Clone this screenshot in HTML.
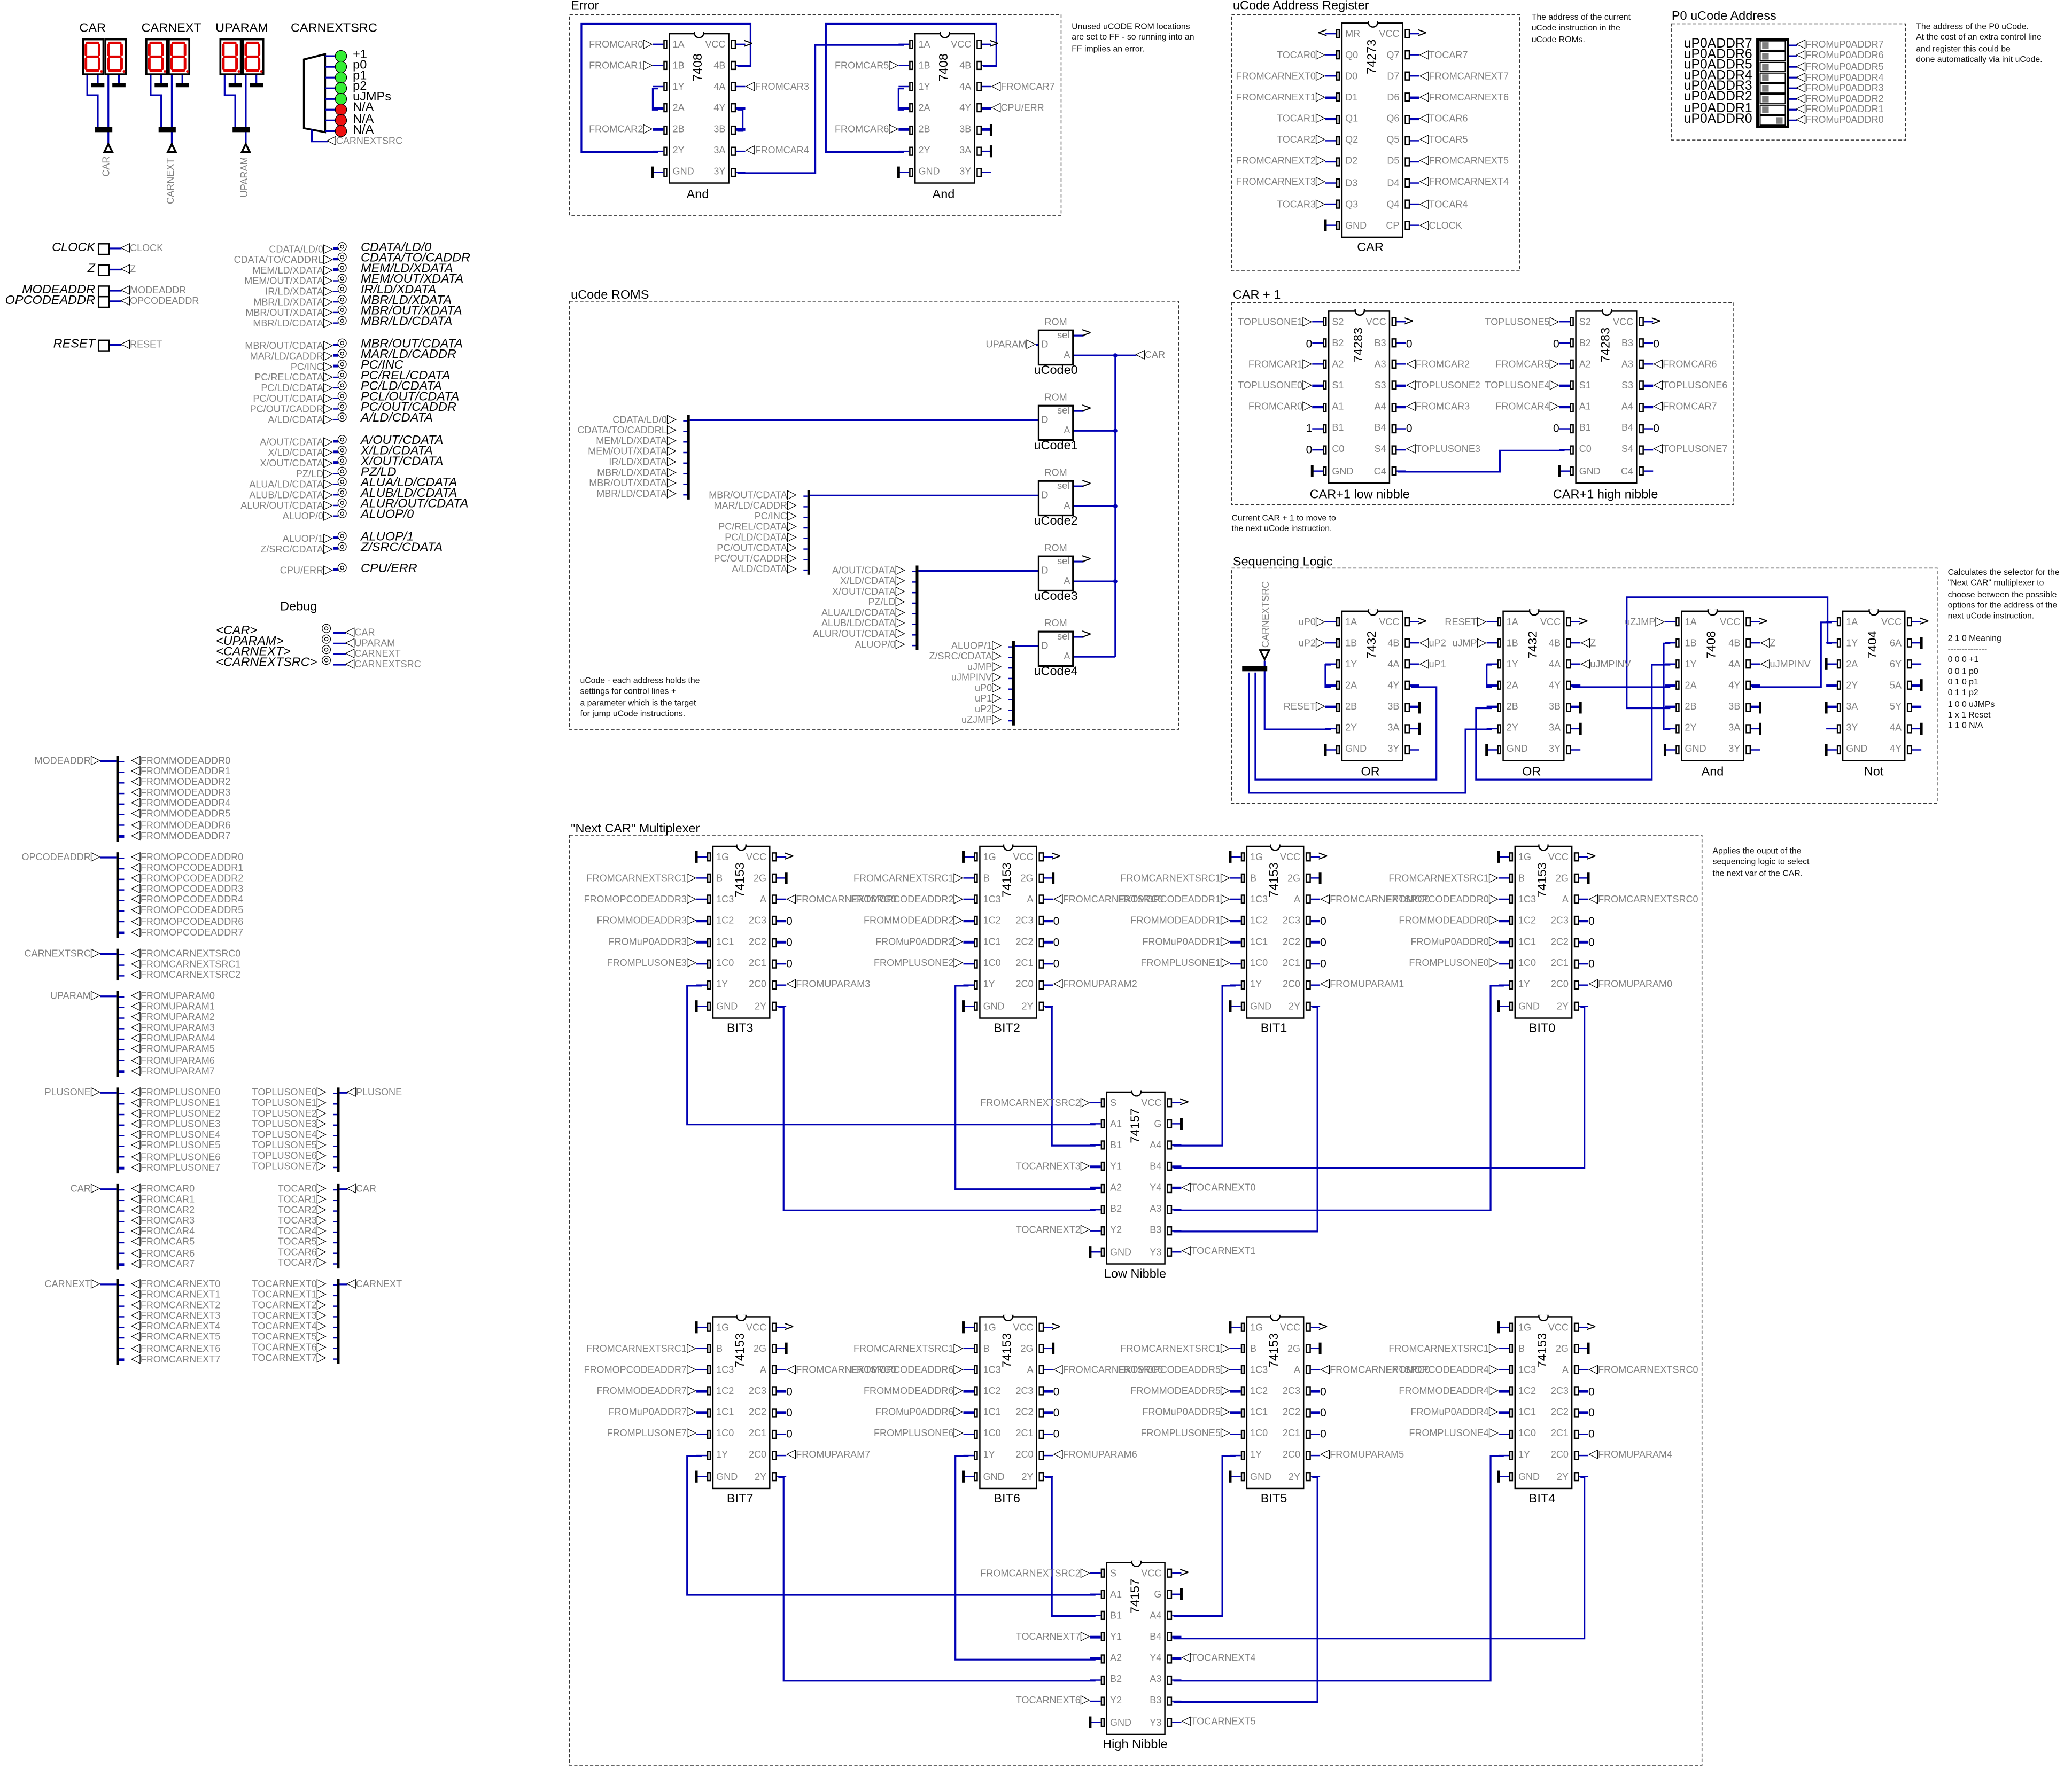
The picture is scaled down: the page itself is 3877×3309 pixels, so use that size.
<!DOCTYPE html>
<html><head><meta charset="utf-8">
<style>
body{margin:0;width:3877px;height:3309px;overflow:hidden;background:#fff}
#w{position:absolute;left:0;top:0;width:1568px;height:1338px;transform:scale(2.47258,2.47309);transform-origin:0 0;font-family:"Liberation Sans Narrow","Liberation Sans",sans-serif}
svg{position:absolute;left:0;top:0}
.t{position:absolute;white-space:nowrap;font-size:7.3px;line-height:8px;color:#808080}
.k{color:#000}
.h{font-size:9.5px;line-height:10px;color:#000}
.it{font-style:italic}
.nt{font-size:6.4px;line-height:8.3px;color:#111}
.ct{transform:translateX(-50%)}
.tR::after{content:"▷";color:#000;font:9.5px/0 "DejaVu Sans",sans-serif}
.tL::before{content:"◁";color:#000;font:9.5px/0 "DejaVu Sans",sans-serif}
.c{position:absolute;border:1.4px solid #000;background:#fff}
.c::before{content:"";position:absolute;left:50%;top:-1.4px;width:8px;height:5px;margin-left:-4px;border:1.4px solid #000;border-top:none;border-radius:0 0 5px 5px;background:#fff;box-sizing:border-box;z-index:2}
.n{position:absolute;left:50%;transform:translate(-50%,-50%) rotate(-90deg);font-size:9.5px;line-height:10px;color:#000;white-space:nowrap;font-family:"Liberation Sans",sans-serif}
.r{position:relative;height:16.15px;display:flex;justify-content:space-between;align-items:center;padding:0 2px;font-size:7.3px;line-height:8px;color:#808080}
.r::before,.r::after{content:"";position:absolute;top:4.5px;width:1.6px;height:5px;border:1px solid #000;background:#fff}
.r::before{left:-5.5px}.r::after{right:-5.5px}
.r i{font-style:normal}
.r i:first-of-type::before{content:"";position:absolute;left:-13px;width:8px;top:7.4px;height:1.3px;background:#0000b4}
.r i:last-of-type::after{content:"";position:absolute;right:-13px;width:8px;top:7.4px;height:1.3px;background:#0000b4}
.r b{position:absolute;top:4px;font-weight:normal;white-space:nowrap;line-height:8px}
.r b.L{right:calc(100% + 13px)}
.L::after{content:"▷";color:#000;font:9.5px/0 "DejaVu Sans",sans-serif}
.r b.R{left:calc(100% + 13px)}
.R::before{content:"◁";color:#000;font:9.5px/0 "DejaVu Sans",sans-serif}
.r b.Z{left:calc(100% + 13px);color:#000;font-size:8.5px}
.r b.ZL{right:calc(100% + 13px);color:#000;font-size:8.5px}
.r b.G{right:calc(100% + 12px);top:3.5px;width:2.2px;height:9px;background:#000}
.r b.GR{left:calc(100% + 12px);top:3.5px;width:2.2px;height:9px;background:#000}
.r b.V{left:calc(100% + 11px);top:2px;color:#000;font:10px "DejaVu Sans",sans-serif;line-height:12px}
.r b.VL{right:calc(100% + 11px);top:2px;color:#000;font:10px "DejaVu Sans",sans-serif;line-height:12px}
.ls{position:absolute;border-left:2.5px solid #000;padding-left:9px}
.ls div{position:relative;height:8.1px;line-height:8.1px;font-size:7.3px;color:#808080;white-space:nowrap}
.ls div::before{content:"◁";color:#000;font:9.5px/0 "DejaVu Sans",sans-serif}
.ls div::after{content:"";position:absolute;left:-9px;width:4px;top:3.6px;height:1.3px;background:#0000b4}
.rs{position:absolute;border-right:2.5px solid #000;padding-right:8px;text-align:right}
.rs div{position:relative;height:8.05px;line-height:8.05px;font-size:7.3px;color:#808080;white-space:nowrap}
.rs div::after{content:"▷";color:#000;font:9.5px/0 "DejaVu Sans",sans-serif}
.rs div::before{content:"";position:absolute;right:-8px;width:3px;top:3.6px;height:1.3px;background:#0000b4}
.sg{position:absolute;left:156px}
.sg div{display:flex;align-items:center;height:8.05px}
.sg s{text-decoration:none;width:96px;text-align:right;color:#808080;font-size:7.3px;white-space:nowrap}
.sg s::after{content:"▷";color:#000;font:9.5px/0 "DejaVu Sans",sans-serif}
.sg u{position:relative;width:4px;height:1.3px;background:#0000b4;margin-right:8px}
.sg u::after{content:"◎";position:absolute;left:3px;top:-5.5px;color:#000;font:9px "DejaVu Sans",sans-serif;line-height:11px}
.sg em{margin-left:9px;font-size:9.5px;color:#000;white-space:nowrap;line-height:8px}
.bx{position:absolute;width:7px;height:7px;border:1.3px solid #000;background:#fff}
</style></head><body><div id="w">
<svg width="1568" height="1338" viewBox="0 0 1568 1338">
<defs>
<symbol id="dg" viewBox="0 0 17 28" width="17" height="28">
<rect x="0.75" y="0.75" width="15.5" height="26.5" fill="#fff" stroke="#000" stroke-width="1.5"/>
<g stroke="#e00000" stroke-width="2" stroke-linecap="round"><path d="M4,3.5H12M4,14H12M4,24.5H12M3,5V12.5M13,5V12.5M3,15.5V23M13,15.5V23"/></g>
<circle cx="14.8" cy="25" r="1" fill="#e00000"/>
</symbol>
</defs>
<g fill="none" stroke="#333" stroke-width="0.6" stroke-dasharray="2.5,1.5">
<rect x="431" y="11" width="372" height="152"/>
<rect x="932" y="11" width="218" height="194"/>
<rect x="1265" y="18" width="177" height="88"/>
<rect x="431" y="228" width="461" height="324"/>
<rect x="932" y="229" width="380" height="153"/>
<rect x="932" y="430" width="534" height="178"/>
<rect x="431" y="632" width="857" height="704"/>
</g>
<use href="#dg" x="62" y="29"/><use href="#dg" x="79" y="29"/>
<use href="#dg" x="110" y="29"/><use href="#dg" x="127" y="29"/>
<use href="#dg" x="166" y="29"/><use href="#dg" x="183" y="29"/>
<g fill="none" stroke="#0000b4" stroke-width="1.3">
<path d="M66,57V72H74V96M74,57V64M82,57V109M90,57V64"/>
<path d="M114,57V72H122V96M122,57V64M130,57V109M138,57V64"/>
<path d="M170,57V72H178V96M178,57V64M186,57V109M194,57V64"/>
</g>
<g fill="#000">
<rect x="69" y="63" width="10" height="3"/><rect x="85" y="63" width="10" height="3"/><rect x="72" y="96" width="13" height="4"/>
<rect x="117" y="63" width="10" height="3"/><rect x="133" y="63" width="10" height="3"/><rect x="120" y="96" width="13" height="4"/>
<rect x="173" y="63" width="10" height="3"/><rect x="189" y="63" width="10" height="3"/><rect x="176" y="96" width="13" height="4"/>
</g>
<g fill="#fff" stroke="#000" stroke-width="1.4">
<path d="M82,109L79,115H85Z"/><path d="M130,109L127,115H133Z"/><path d="M186,109L183,115H189Z"/>
</g>
<path d="M230,45L246,41V100L230,97Z" fill="#fff" stroke="#000" stroke-width="1.5"/>
<g stroke="#0000b4" stroke-width="1.3" fill="none">
<path d="M246,42.5H254M246,50.6H254M246,58.7H254M246,66.8H254M246,74.9H254M246,83H254M246,91.1H254M246,99.2H254"/>
<path d="M236,98V107H248"/>
</g>
<g stroke="#000" stroke-width="0.5">
<circle cx="258" cy="42.5" r="4.3" fill="#33ee33"/><circle cx="258" cy="50.6" r="4.3" fill="#33ee33"/><circle cx="258" cy="58.7" r="4.3" fill="#33ee33"/><circle cx="258" cy="66.8" r="4.3" fill="#33ee33"/><circle cx="258" cy="74.9" r="4.3" fill="#33ee33"/>
<circle cx="258" cy="83" r="4.3" fill="#ee1111"/><circle cx="258" cy="91.1" r="4.3" fill="#ee1111"/><circle cx="258" cy="99.2" r="4.3" fill="#ee1111"/>
</g>
<g stroke="#0000b4" stroke-width="1.3" fill="none">
<path d="M76,576H88M76,649H88M76,722H88M76,754H88M76,827H88M76,900H88M76,972H88"/>
<path d="M257,827H263M257,900H263M257,972H263"/>
<path d="M83,188H92M83,204H92M83,220H92M83,228H92M83,261H92"/>
<path d="M252,479H262M252,487H262M252,495H262M252,503H262"/>
</g>
<g stroke="#0000b4" stroke-width="1.3" fill="none">
<path d="M498,115H440V18H568V50H558"/>
<path d="M498,67H494V83H498"/>
<path d="M558,83H562V99H558"/>
<path d="M558,131H617V34H684"/>
<path d="M684,115H625V18H754V50H744"/>
<path d="M684,67H680V83H684"/>
<path d="M1058,357H1135V341H1184"/>
<path d="M844,269V497M812,269H860M812,326H844M812,383H844M812,440H844M812,497H844"/>
<path d="M522,318H786M613,375H786M695,432H786M768,489H786M784,261H786"/>
<path d="M812,254H820M812,311H820M812,368H820M812,425H820M812,482H820"/>
<path d="M1353,34.4H1360M1353,42.5H1360M1353,50.6H1360M1353,58.7H1360M1353,66.8H1360M1353,74.9H1360M1353,83H1360M1353,91.1H1360"/>
<path d="M957,500V509M957,509V552H1007"/>
<path d="M950,509V590H1087V520H1068"/>
<path d="M945,509V600H1109V552H1129"/>
<path d="M1007,503H1003V520H1007"/>
<path d="M1129,503H1125V520H1129"/>
<path d="M1129,536H1117V590H1250V503H1264"/>
<path d="M1190,520H1264"/>
<path d="M1264,487H1259V552H1264"/>
<path d="M1264,536H1231V452H1383V487H1386"/>
<path d="M1326,520H1378V471H1386"/>
<path d="M531,746H520V851H829"/><path d="M589,762H593V916H829"/>
<path d="M733,746H723V900H829"/><path d="M791,762H796V867H829"/>
<path d="M935,746H925V867H888"/><path d="M993,762H997V932H888"/>
<path d="M1138,746H1128V916H888"/><path d="M1196,762H1199V884H888"/>
<path d="M531,1102H520V1207H829"/><path d="M589,1118H593V1272H829"/>
<path d="M733,1102H723V1256H829"/><path d="M791,1118H796V1223H829"/>
<path d="M935,1102H925V1223H888"/><path d="M993,1118H997V1288H888"/>
<path d="M1138,1102H1128V1272H888"/><path d="M1196,1118H1199V1240H888"/>
</g>
<rect x="940" y="504" width="19" height="4" fill="#000"/>
<path d="M953.5,492L960.5,492L957,499Z" fill="#fff" stroke="#000" stroke-width="1.3"/>
<g fill="#0000b4"><circle cx="844" cy="326" r="1.6"/><circle cx="844" cy="383" r="1.6"/><circle cx="844" cy="440" r="1.6"/><circle cx="844" cy="269" r="1.6"/></g>
<g fill="#fff" stroke="#000" stroke-width="1.3">
<rect x="786" y="250" width="26" height="26"/><rect x="786" y="307" width="26" height="26"/><rect x="786" y="364" width="26" height="26"/><rect x="786" y="421" width="26" height="26"/><rect x="786" y="478" width="26" height="26"/>
</g>
<rect x="1330" y="30" width="23" height="66" fill="#fff" stroke="#000" stroke-width="2"/>
<g fill="#fff" stroke="#000" stroke-width="0.8">
<rect x="1332" y="31" width="19" height="7"/><rect x="1332" y="39.1" width="19" height="7"/><rect x="1332" y="47.2" width="19" height="7"/><rect x="1332" y="55.3" width="19" height="7"/><rect x="1332" y="63.4" width="19" height="7"/><rect x="1332" y="71.5" width="19" height="7"/><rect x="1332" y="79.6" width="19" height="7"/><rect x="1332" y="87.7" width="19" height="7"/>
</g>
<g fill="#808080">
<rect x="1333.5" y="32" width="5" height="5"/><rect x="1333.5" y="40.1" width="5" height="5"/><rect x="1333.5" y="48.2" width="5" height="5"/><rect x="1333.5" y="56.3" width="5" height="5"/><rect x="1333.5" y="64.4" width="5" height="5"/><rect x="1333.5" y="72.5" width="5" height="5"/><rect x="1333.5" y="80.6" width="5" height="5"/><rect x="1344" y="88.7" width="5" height="5"/>
</g>
</svg>

<div class="t h" style="left:60px;top:17px">CAR</div>
<div class="t h" style="left:107px;top:17px">CARNEXT</div>
<div class="t h" style="left:163px;top:17px">UPARAM</div>
<div class="t h" style="left:220px;top:17px">CARNEXTSRC</div>
<div class="t" style="left:73px;top:122px;transform:rotate(-90deg)">CAR</div>
<div class="t" style="left:112px;top:133px;transform:rotate(-90deg)">CARNEXT</div>
<div class="t" style="left:170px;top:130px;transform:rotate(-90deg)">UPARAM</div>
<div class="t k" style="left:267px;top:38px;font-size:9.5px;line-height:8.1px">+1<br>p0<br>p1<br>p2<br>uJMPs<br>N/A<br>N/A<br>N/A</div>
<div class="t tL" style="left:247px;top:103px">CARNEXTSRC</div>

<div class="t h it" style="right:1496px;top:183px">CLOCK</div>
<div class="t h it" style="right:1496px;top:199px">Z</div>
<div class="t h it" style="right:1496px;top:215px">MODEADDR</div>
<div class="t h it" style="right:1496px;top:223px">OPCODEADDR</div>
<div class="t h it" style="right:1496px;top:256px">RESET</div>
<div class="bx" style="left:74px;top:183.5px"></div><div class="bx" style="left:74px;top:199.5px"></div><div class="bx" style="left:74px;top:215.5px"></div><div class="bx" style="left:74px;top:223.5px"></div><div class="bx" style="left:74px;top:256.5px"></div>
<div class="t tL" style="left:91px;top:184px">CLOCK</div>
<div class="t tL" style="left:91px;top:200px">Z</div>
<div class="t tL" style="left:91px;top:216px">MODEADDR</div>
<div class="t tL" style="left:91px;top:224px">OPCODEADDR</div>
<div class="t tL" style="left:91px;top:257px">RESET</div>

<div class="sg" style="top:184px">
<div><s>CDATA/LD/0</s><u></u><em>CDATA/LD/0</em></div>
<div><s>CDATA/TO/CADDRL</s><u></u><em>CDATA/TO/CADDR</em></div>
<div><s>MEM/LD/XDATA</s><u></u><em>MEM/LD/XDATA</em></div>
<div><s>MEM/OUT/XDATA</s><u></u><em>MEM/OUT/XDATA</em></div>
<div><s>IR/LD/XDATA</s><u></u><em>IR/LD/XDATA</em></div>
<div><s>MBR/LD/XDATA</s><u></u><em>MBR/LD/XDATA</em></div>
<div><s>MBR/OUT/XDATA</s><u></u><em>MBR/OUT/XDATA</em></div>
<div><s>MBR/LD/CDATA</s><u></u><em>MBR/LD/CDATA</em></div>
</div>
<div class="sg" style="top:257px">
<div><s>MBR/OUT/CDATA</s><u></u><em>MBR/OUT/CDATA</em></div>
<div><s>MAR/LD/CADDR</s><u></u><em>MAR/LD/CADDR</em></div>
<div><s>PC/INC</s><u></u><em>PC/INC</em></div>
<div><s>PC/REL/CDATA</s><u></u><em>PC/REL/CDATA</em></div>
<div><s>PC/LD/CDATA</s><u></u><em>PC/LD/CDATA</em></div>
<div><s>PC/OUT/CDATA</s><u></u><em>PCL/OUT/CDATA</em></div>
<div><s>PC/OUT/CADDR</s><u></u><em>PC/OUT/CADDR</em></div>
<div><s>A/LD/CDATA</s><u></u><em>A/LD/CDATA</em></div>
</div>
<div class="sg" style="top:330px">
<div><s>A/OUT/CDATA</s><u></u><em>A/OUT/CDATA</em></div>
<div><s>X/LD/CDATA</s><u></u><em>X/LD/CDATA</em></div>
<div><s>X/OUT/CDATA</s><u></u><em>X/OUT/CDATA</em></div>
<div><s>PZ/LD</s><u></u><em>PZ/LD</em></div>
<div><s>ALUA/LD/CDATA</s><u></u><em>ALUA/LD/CDATA</em></div>
<div><s>ALUB/LD/CDATA</s><u></u><em>ALUB/LD/CDATA</em></div>
<div><s>ALUR/OUT/CDATA</s><u></u><em>ALUR/OUT/CDATA</em></div>
<div><s>ALUOP/0</s><u></u><em>ALUOP/0</em></div>
</div>
<div class="sg" style="top:403px">
<div><s>ALUOP/1</s><u></u><em>ALUOP/1</em></div>
<div><s>Z/SRC/CDATA</s><u></u><em>Z/SRC/CDATA</em></div>
</div>
<div class="sg" style="top:427px">
<div><s>CPU/ERR</s><u></u><em>CPU/ERR</em></div>
</div>

<div class="t h" style="left:212px;top:455px">Debug</div>
<div class="t h it" style="right:1328px;top:474px;line-height:8.05px">&lt;CAR&gt;<br>&lt;UPARAM&gt;<br>&lt;CARNEXT&gt;<br>&lt;CARNEXTSRC&gt;</div>
<div class="t k" style="left:243px;top:472px;font:9px 'DejaVu Sans',sans-serif;line-height:8.05px">◎<br>◎<br>◎<br>◎</div>
<div class="t tL" style="left:261px;top:475px">CAR</div>
<div class="t tL" style="left:261px;top:483px">UPARAM</div>
<div class="t tL" style="left:261px;top:491px">CARNEXT</div>
<div class="t tL" style="left:261px;top:499px">CARNEXTSRC</div>

<div class="t tR" style="right:1492px;top:572px">MODEADDR</div>
<div class="ls" style="left:88px;top:572px"><div>FROMMODEADDR0</div><div>FROMMODEADDR1</div><div>FROMMODEADDR2</div><div>FROMMODEADDR3</div><div>FROMMODEADDR4</div><div>FROMMODEADDR5</div><div>FROMMODEADDR6</div><div>FROMMODEADDR7</div></div>
<div class="t tR" style="right:1492px;top:645px">OPCODEADDR</div>
<div class="ls" style="left:88px;top:645px"><div>FROMOPCODEADDR0</div><div>FROMOPCODEADDR1</div><div>FROMOPCODEADDR2</div><div>FROMOPCODEADDR3</div><div>FROMOPCODEADDR4</div><div>FROMOPCODEADDR5</div><div>FROMOPCODEADDR6</div><div>FROMOPCODEADDR7</div></div>
<div class="t tR" style="right:1492px;top:718px">CARNEXTSRC</div>
<div class="ls" style="left:88px;top:718px"><div>FROMCARNEXTSRC0</div><div>FROMCARNEXTSRC1</div><div>FROMCARNEXTSRC2</div></div>
<div class="t tR" style="right:1492px;top:750px">UPARAM</div>
<div class="ls" style="left:88px;top:750px"><div>FROMUPARAM0</div><div>FROMUPARAM1</div><div>FROMUPARAM2</div><div>FROMUPARAM3</div><div>FROMUPARAM4</div><div>FROMUPARAM5</div><div>FROMUPARAM6</div><div>FROMUPARAM7</div></div>
<div class="t tR" style="right:1492px;top:823px">PLUSONE</div>
<div class="ls" style="left:88px;top:823px"><div>FROMPLUSONE0</div><div>FROMPLUSONE1</div><div>FROMPLUSONE2</div><div>FROMPLUSONE3</div><div>FROMPLUSONE4</div><div>FROMPLUSONE5</div><div>FROMPLUSONE6</div><div>FROMPLUSONE7</div></div>
<div class="rs" style="right:1311px;top:823px"><div>TOPLUSONE0</div><div>TOPLUSONE1</div><div>TOPLUSONE2</div><div>TOPLUSONE3</div><div>TOPLUSONE4</div><div>TOPLUSONE5</div><div>TOPLUSONE6</div><div>TOPLUSONE7</div></div>
<div class="t tL" style="left:262px;top:823px">PLUSONE</div>
<div class="t tR" style="right:1492px;top:896px">CAR</div>
<div class="ls" style="left:88px;top:896px"><div>FROMCAR0</div><div>FROMCAR1</div><div>FROMCAR2</div><div>FROMCAR3</div><div>FROMCAR4</div><div>FROMCAR5</div><div>FROMCAR6</div><div>FROMCAR7</div></div>
<div class="rs" style="right:1311px;top:896px"><div>TOCAR0</div><div>TOCAR1</div><div>TOCAR2</div><div>TOCAR3</div><div>TOCAR4</div><div>TOCAR5</div><div>TOCAR6</div><div>TOCAR7</div></div>
<div class="t tL" style="left:262px;top:896px">CAR</div>
<div class="t tR" style="right:1492px;top:968px">CARNEXT</div>
<div class="ls" style="left:88px;top:968px"><div>FROMCARNEXT0</div><div>FROMCARNEXT1</div><div>FROMCARNEXT2</div><div>FROMCARNEXT3</div><div>FROMCARNEXT4</div><div>FROMCARNEXT5</div><div>FROMCARNEXT6</div><div>FROMCARNEXT7</div></div>
<div class="rs" style="right:1311px;top:968px"><div>TOCARNEXT0</div><div>TOCARNEXT1</div><div>TOCARNEXT2</div><div>TOCARNEXT3</div><div>TOCARNEXT4</div><div>TOCARNEXT5</div><div>TOCARNEXT6</div><div>TOCARNEXT7</div></div>
<div class="t tL" style="left:262px;top:968px">CARNEXT</div>

<div class="t h" style="left:432px;top:0px">Error</div>
<div class="t h" style="left:933px;top:0px">uCode  Address  Register</div>
<div class="t h" style="left:1265px;top:8px">P0  uCode  Address</div>
<div class="t h" style="left:432px;top:219px">uCode  ROMS</div>
<div class="t h" style="left:933px;top:219px">CAR  +  1</div>
<div class="t h" style="left:933px;top:421px">Sequencing  Logic</div>
<div class="t h" style="left:432px;top:623px">"Next  CAR"  Multiplexer</div>
<div class="t nt" style="left:811px;top:17px">Unused uCODE ROM locations<br>are set to FF - so running into an<br>FF implies an error.</div>
<div class="t nt" style="left:1159px;top:10px">The address of the current<br>uCode instruction in the<br>uCode ROMs.</div>
<div class="t nt" style="left:1450px;top:17px">The address of the P0 uCode.<br>At the cost of an extra control line<br>and register this could be<br>done automatically via init uCode.</div>
<div class="t nt" style="left:932px;top:389px">Current CAR + 1 to move to<br>the next uCode instruction.</div>
<div class="t nt" style="left:1474px;top:430px">Calculates the selector for the<br>"Next CAR" multiplexer to<br>choose between the possible<br>options for the address of the<br>next uCode instruction.<br><br>2 1 0 Meaning<br>--------------<br>0 0 0 +1<br>0 0 1 p0<br>0 1 0 p1<br>0 1 1 p2<br>1 0 0 uJMPs<br>1 x 1 Reset<br>1 1 0 N/A</div>
<div class="t nt" style="left:1296px;top:641px">Applies the ouput of the<br>sequencing logic to select<br>the next var of the CAR.</div>
<div class="t nt" style="left:439px;top:512px">uCode - each address holds the<br>settings for control lines +<br>a parameter which is the target<br>for jump uCode instructions.</div>

<div class="t k" style="right:242px;top:30px;font-size:10px;line-height:8.1px;text-align:right">uP0ADDR7<br>uP0ADDR6<br>uP0ADDR5<br>uP0ADDR4<br>uP0ADDR3<br>uP0ADDR2<br>uP0ADDR1<br>uP0ADDR0</div>
<div class="t" style="left:1359px;top:30.4px;line-height:8.1px"><span class="tL">FROMuP0ADDR7</span><br><span class="tL">FROMuP0ADDR6</span><br><span class="tL">FROMuP0ADDR5</span><br><span class="tL">FROMuP0ADDR4</span><br><span class="tL">FROMuP0ADDR3</span><br><span class="tL">FROMuP0ADDR2</span><br><span class="tL">FROMuP0ADDR1</span><br><span class="tL">FROMuP0ADDR0</span></div>

<div class="c" style="left:506px;top:24.5px;width:44px"><div class="n" style="top:25px">7408</div>
<div class="r"><i>1A</i><i>VCC</i><b class="L">FROMCAR0</b><b class="V">&gt;</b></div>
<div class="r"><i>1B</i><i>4B</i><b class="L">FROMCAR1</b></div>
<div class="r"><i>1Y</i><i>4A</i><b class="R">FROMCAR3</b></div>
<div class="r"><i>2A</i><i>4Y</i></div>
<div class="r"><i>2B</i><i>3B</i><b class="L">FROMCAR2</b></div>
<div class="r"><i>2Y</i><i>3A</i><b class="R">FROMCAR4</b></div>
<div class="r"><i>GND</i><i>3Y</i><b class="G"></b></div></div>
<div class="c" style="left:692px;top:24.5px;width:44px"><div class="n" style="top:25px">7408</div>
<div class="r"><i>1A</i><i>VCC</i><b class="V">&gt;</b></div>
<div class="r"><i>1B</i><i>4B</i><b class="L">FROMCAR5</b></div>
<div class="r"><i>1Y</i><i>4A</i><b class="R">FROMCAR7</b></div>
<div class="r"><i>2A</i><i>4Y</i><b class="R">CPU/ERR</b></div>
<div class="r"><i>2B</i><i>3B</i><b class="L">FROMCAR6</b><b class="GR"></b></div>
<div class="r"><i>2Y</i><i>3A</i><b class="GR"></b></div>
<div class="r"><i>GND</i><i>3Y</i><b class="G"></b></div></div>
<div class="t h ct" style="left:528px;top:143px">And</div>
<div class="t h ct" style="left:714px;top:143px">And</div>

<div class="c" style="left:1015px;top:16.5px;width:45px"><div class="n" style="top:25px">74273</div>
<div class="r"><i>MR</i><i>VCC</i><b class="VL">&lt;</b><b class="V">&gt;</b></div>
<div class="r"><i>Q0</i><i>Q7</i><b class="L">TOCAR0</b><b class="R">TOCAR7</b></div>
<div class="r"><i>D0</i><i>D7</i><b class="L">FROMCARNEXT0</b><b class="R">FROMCARNEXT7</b></div>
<div class="r"><i>D1</i><i>D6</i><b class="L">FROMCARNEXT1</b><b class="R">FROMCARNEXT6</b></div>
<div class="r"><i>Q1</i><i>Q6</i><b class="L">TOCAR1</b><b class="R">TOCAR6</b></div>
<div class="r"><i>Q2</i><i>Q5</i><b class="L">TOCAR2</b><b class="R">TOCAR5</b></div>
<div class="r"><i>D2</i><i>D5</i><b class="L">FROMCARNEXT2</b><b class="R">FROMCARNEXT5</b></div>
<div class="r"><i>D3</i><i>D4</i><b class="L">FROMCARNEXT3</b><b class="R">FROMCARNEXT4</b></div>
<div class="r"><i>Q3</i><i>Q4</i><b class="L">TOCAR3</b><b class="R">TOCAR4</b></div>
<div class="r"><i>GND</i><i>CP</i><b class="G"></b><b class="R">CLOCK</b></div></div>
<div class="t h ct" style="left:1037px;top:183px">CAR</div>

<div class="c" style="left:1005px;top:234.5px;width:45px"><div class="n" style="top:25px">74283</div>
<div class="r"><i>S2</i><i>VCC</i><b class="L">TOPLUSONE1</b><b class="V">&gt;</b></div>
<div class="r"><i>B2</i><i>B3</i><b class="ZL">0</b><b class="Z">0</b></div>
<div class="r"><i>A2</i><i>A3</i><b class="L">FROMCAR1</b><b class="R">FROMCAR2</b></div>
<div class="r"><i>S1</i><i>S3</i><b class="L">TOPLUSONE0</b><b class="R">TOPLUSONE2</b></div>
<div class="r"><i>A1</i><i>A4</i><b class="L">FROMCAR0</b><b class="R">FROMCAR3</b></div>
<div class="r"><i>B1</i><i>B4</i><b class="ZL">1</b><b class="Z">0</b></div>
<div class="r"><i>C0</i><i>S4</i><b class="ZL">0</b><b class="R">TOPLUSONE3</b></div>
<div class="r"><i>GND</i><i>C4</i><b class="G"></b></div></div>
<div class="c" style="left:1192px;top:234.5px;width:45px"><div class="n" style="top:25px">74283</div>
<div class="r"><i>S2</i><i>VCC</i><b class="L">TOPLUSONE5</b><b class="V">&gt;</b></div>
<div class="r"><i>B2</i><i>B3</i><b class="ZL">0</b><b class="Z">0</b></div>
<div class="r"><i>A2</i><i>A3</i><b class="L">FROMCAR5</b><b class="R">FROMCAR6</b></div>
<div class="r"><i>S1</i><i>S3</i><b class="L">TOPLUSONE4</b><b class="R">TOPLUSONE6</b></div>
<div class="r"><i>A1</i><i>A4</i><b class="L">FROMCAR4</b><b class="R">FROMCAR7</b></div>
<div class="r"><i>B1</i><i>B4</i><b class="ZL">0</b><b class="Z">0</b></div>
<div class="r"><i>C0</i><i>S4</i><b class="R">TOPLUSONE7</b></div>
<div class="r"><i>GND</i><i>C4</i><b class="G"></b></div></div>
<div class="t h ct" style="left:1029px;top:370px">CAR+1  low  nibble</div>
<div class="t h ct" style="left:1215px;top:370px">CAR+1  high  nibble</div>

<div class="t ct" style="left:799px;top:240px">ROM</div><div class="t" style="left:800px;top:250px">sel</div><div class="t" style="left:788px;top:257px">D</div><div class="t" style="left:805px;top:265px">A</div><div class="t h ct" style="left:799px;top:276px">uCode0</div>
<div class="t ct" style="left:799px;top:297px">ROM</div><div class="t" style="left:800px;top:307px">sel</div><div class="t" style="left:788px;top:314px">D</div><div class="t" style="left:805px;top:322px">A</div><div class="t h ct" style="left:799px;top:333px">uCode1</div>
<div class="t ct" style="left:799px;top:354px">ROM</div><div class="t" style="left:800px;top:364px">sel</div><div class="t" style="left:788px;top:371px">D</div><div class="t" style="left:805px;top:379px">A</div><div class="t h ct" style="left:799px;top:390px">uCode2</div>
<div class="t ct" style="left:799px;top:411px">ROM</div><div class="t" style="left:800px;top:421px">sel</div><div class="t" style="left:788px;top:428px">D</div><div class="t" style="left:805px;top:436px">A</div><div class="t h ct" style="left:799px;top:447px">uCode3</div>
<div class="t ct" style="left:799px;top:468px">ROM</div><div class="t" style="left:800px;top:478px">sel</div><div class="t" style="left:788px;top:485px">D</div><div class="t" style="left:805px;top:493px">A</div><div class="t h ct" style="left:799px;top:504px">uCode4</div>
<div class="t k" style="left:818px;top:247px;font:10px 'DejaVu Sans',sans-serif;line-height:12px">&gt;</div>
<div class="t k" style="left:818px;top:304px;font:10px 'DejaVu Sans',sans-serif;line-height:12px">&gt;</div>
<div class="t k" style="left:818px;top:361px;font:10px 'DejaVu Sans',sans-serif;line-height:12px">&gt;</div>
<div class="t k" style="left:818px;top:418px;font:10px 'DejaVu Sans',sans-serif;line-height:12px">&gt;</div>
<div class="t k" style="left:818px;top:475px;font:10px 'DejaVu Sans',sans-serif;line-height:12px">&gt;</div>
<div class="t tR" style="right:784px;top:257px">UPARAM</div>
<div class="t tL" style="left:859px;top:265px">CAR</div>
<div class="rs" style="right:1046px;top:314px"><div>CDATA/LD/0</div><div>CDATA/TO/CADDRL</div><div>MEM/LD/XDATA</div><div>MEM/OUT/XDATA</div><div>IR/LD/XDATA</div><div>MBR/LD/XDATA</div><div>MBR/OUT/XDATA</div><div>MBR/LD/CDATA</div></div>
<div class="rs" style="right:955px;top:371px"><div>MBR/OUT/CDATA</div><div>MAR/LD/CADDR</div><div>PC/INC</div><div>PC/REL/CDATA</div><div>PC/LD/CDATA</div><div>PC/OUT/CDATA</div><div>PC/OUT/CADDR</div><div>A/LD/CDATA</div></div>
<div class="rs" style="right:873px;top:428px"><div>A/OUT/CDATA</div><div>X/LD/CDATA</div><div>X/OUT/CDATA</div><div>PZ/LD</div><div>ALUA/LD/CDATA</div><div>ALUB/LD/CDATA</div><div>ALUR/OUT/CDATA</div><div>ALUOP/0</div></div>
<div class="rs" style="right:800px;top:485px"><div>ALUOP/1</div><div>Z/SRC/CDATA</div><div>uJMP</div><div>uJMPINV</div><div>uP0</div><div>uP1</div><div>uP2</div><div>uZJMP</div></div>

<div class="t" style="left:933px;top:461px;transform:rotate(-90deg)">CARNEXTSRC</div>
<div class="c" style="left:1015px;top:461.5px;width:45px"><div class="n" style="top:25px">7432</div>
<div class="r"><i>1A</i><i>VCC</i><b class="L">uP0</b><b class="V">&gt;</b></div>
<div class="r"><i>1B</i><i>4B</i><b class="L">uP2</b><b class="R">uP2</b></div>
<div class="r"><i>1Y</i><i>4A</i><b class="R">uP1</b></div>
<div class="r"><i>2A</i><i>4Y</i></div>
<div class="r"><i>2B</i><i>3B</i><b class="L">RESET</b><b class="GR"></b></div>
<div class="r"><i>2Y</i><i>3A</i><b class="GR"></b></div>
<div class="r"><i>GND</i><i>3Y</i><b class="G"></b></div></div>
<div class="c" style="left:1137px;top:461.5px;width:45px"><div class="n" style="top:25px">7432</div>
<div class="r"><i>1A</i><i>VCC</i><b class="L">RESET</b><b class="V">&gt;</b></div>
<div class="r"><i>1B</i><i>4B</i><b class="L">uJMP</b><b class="R">Z</b></div>
<div class="r"><i>1Y</i><i>4A</i><b class="R">uJMPINV</b></div>
<div class="r"><i>2A</i><i>4Y</i></div>
<div class="r"><i>2B</i><i>3B</i><b class="GR"></b></div>
<div class="r"><i>2Y</i><i>3A</i><b class="GR"></b></div>
<div class="r"><i>GND</i><i>3Y</i><b class="G"></b></div></div>
<div class="c" style="left:1272px;top:461.5px;width:46px"><div class="n" style="top:25px">7408</div>
<div class="r"><i>1A</i><i>VCC</i><b class="L">uZJMP</b><b class="V">&gt;</b></div>
<div class="r"><i>1B</i><i>4B</i><b class="R">Z</b></div>
<div class="r"><i>1Y</i><i>4A</i><b class="R">uJMPINV</b></div>
<div class="r"><i>2A</i><i>4Y</i></div>
<div class="r"><i>2B</i><i>3B</i><b class="GR"></b></div>
<div class="r"><i>2Y</i><i>3A</i><b class="GR"></b></div>
<div class="r"><i>GND</i><i>3Y</i><b class="G"></b></div></div>
<div class="c" style="left:1394px;top:461.5px;width:46px"><div class="n" style="top:25px">7404</div>
<div class="r"><i>1A</i><i>VCC</i><b class="V">&gt;</b></div>
<div class="r"><i>1Y</i><i>6A</i><b class="GR"></b></div>
<div class="r"><i>2A</i><i>6Y</i><b class="G"></b></div>
<div class="r"><i>2Y</i><i>5A</i><b class="GR"></b></div>
<div class="r"><i>3A</i><i>5Y</i><b class="G"></b></div>
<div class="r"><i>3Y</i><i>4A</i><b class="GR"></b></div>
<div class="r"><i>GND</i><i>4Y</i><b class="G"></b></div></div>
<div class="t h ct" style="left:1037px;top:580px">OR</div>
<div class="t h ct" style="left:1159px;top:580px">OR</div>
<div class="t h ct" style="left:1296px;top:580px">And</div>
<div class="t h ct" style="left:1418px;top:580px">Not</div>

<div class="c" style="left:539px;top:639.5px;width:42px"><div class="n" style="top:25px">74153</div>
<div class="r"><i>1G</i><i>VCC</i><b class="G"></b><b class="V">&gt;</b></div>
<div class="r"><i>B</i><i>2G</i><b class="L">FROMCARNEXTSRC1</b><b class="GR"></b></div>
<div class="r"><i>1C3</i><i>A</i><b class="L">FROMOPCODEADDR3</b><b class="R">FROMCARNEXTSRC0</b></div>
<div class="r"><i>1C2</i><i>2C3</i><b class="L">FROMMODEADDR3</b><b class="Z">0</b></div>
<div class="r"><i>1C1</i><i>2C2</i><b class="L">FROMuP0ADDR3</b><b class="Z">0</b></div>
<div class="r"><i>1C0</i><i>2C1</i><b class="L">FROMPLUSONE3</b><b class="Z">0</b></div>
<div class="r"><i>1Y</i><i>2C0</i><b class="R">FROMUPARAM3</b></div>
<div class="r"><i>GND</i><i>2Y</i><b class="G"></b></div></div>
<div class="c" style="left:741px;top:639.5px;width:42px"><div class="n" style="top:25px">74153</div>
<div class="r"><i>1G</i><i>VCC</i><b class="G"></b><b class="V">&gt;</b></div>
<div class="r"><i>B</i><i>2G</i><b class="L">FROMCARNEXTSRC1</b><b class="GR"></b></div>
<div class="r"><i>1C3</i><i>A</i><b class="L">FROMOPCODEADDR2</b><b class="R">FROMCARNEXTSRC0</b></div>
<div class="r"><i>1C2</i><i>2C3</i><b class="L">FROMMODEADDR2</b><b class="Z">0</b></div>
<div class="r"><i>1C1</i><i>2C2</i><b class="L">FROMuP0ADDR2</b><b class="Z">0</b></div>
<div class="r"><i>1C0</i><i>2C1</i><b class="L">FROMPLUSONE2</b><b class="Z">0</b></div>
<div class="r"><i>1Y</i><i>2C0</i><b class="R">FROMUPARAM2</b></div>
<div class="r"><i>GND</i><i>2Y</i><b class="G"></b></div></div>
<div class="c" style="left:943px;top:639.5px;width:42px"><div class="n" style="top:25px">74153</div>
<div class="r"><i>1G</i><i>VCC</i><b class="G"></b><b class="V">&gt;</b></div>
<div class="r"><i>B</i><i>2G</i><b class="L">FROMCARNEXTSRC1</b><b class="GR"></b></div>
<div class="r"><i>1C3</i><i>A</i><b class="L">FROMOPCODEADDR1</b><b class="R">FROMCARNEXTSRC0</b></div>
<div class="r"><i>1C2</i><i>2C3</i><b class="L">FROMMODEADDR1</b><b class="Z">0</b></div>
<div class="r"><i>1C1</i><i>2C2</i><b class="L">FROMuP0ADDR1</b><b class="Z">0</b></div>
<div class="r"><i>1C0</i><i>2C1</i><b class="L">FROMPLUSONE1</b><b class="Z">0</b></div>
<div class="r"><i>1Y</i><i>2C0</i><b class="R">FROMUPARAM1</b></div>
<div class="r"><i>GND</i><i>2Y</i><b class="G"></b></div></div>
<div class="c" style="left:1146px;top:639.5px;width:42px"><div class="n" style="top:25px">74153</div>
<div class="r"><i>1G</i><i>VCC</i><b class="G"></b><b class="V">&gt;</b></div>
<div class="r"><i>B</i><i>2G</i><b class="L">FROMCARNEXTSRC1</b><b class="GR"></b></div>
<div class="r"><i>1C3</i><i>A</i><b class="L">FROMOPCODEADDR0</b><b class="R">FROMCARNEXTSRC0</b></div>
<div class="r"><i>1C2</i><i>2C3</i><b class="L">FROMMODEADDR0</b><b class="Z">0</b></div>
<div class="r"><i>1C1</i><i>2C2</i><b class="L">FROMuP0ADDR0</b><b class="Z">0</b></div>
<div class="r"><i>1C0</i><i>2C1</i><b class="L">FROMPLUSONE0</b><b class="Z">0</b></div>
<div class="r"><i>1Y</i><i>2C0</i><b class="R">FROMUPARAM0</b></div>
<div class="r"><i>GND</i><i>2Y</i><b class="G"></b></div></div>
<div class="t h ct" style="left:560px;top:774px">BIT3</div>
<div class="t h ct" style="left:762px;top:774px">BIT2</div>
<div class="t h ct" style="left:964px;top:774px">BIT1</div>
<div class="t h ct" style="left:1167px;top:774px">BIT0</div>

<div class="c" style="left:837px;top:825.5px;width:43px"><div class="n" style="top:25px">74157</div>
<div class="r"><i>S</i><i>VCC</i><b class="L">FROMCARNEXTSRC2</b><b class="V">&gt;</b></div>
<div class="r"><i>A1</i><i>G</i><b class="GR"></b></div>
<div class="r"><i>B1</i><i>A4</i></div>
<div class="r"><i>Y1</i><i>B4</i><b class="L">TOCARNEXT3</b></div>
<div class="r"><i>A2</i><i>Y4</i><b class="R">TOCARNEXT0</b></div>
<div class="r"><i>B2</i><i>A3</i></div>
<div class="r"><i>Y2</i><i>B3</i><b class="L">TOCARNEXT2</b></div>
<div class="r"><i>GND</i><i>Y3</i><b class="G"></b><b class="R">TOCARNEXT1</b></div></div>
<div class="t h ct" style="left:859px;top:960px">Low  Nibble</div>

<div class="c" style="left:539px;top:995.5px;width:42px"><div class="n" style="top:25px">74153</div>
<div class="r"><i>1G</i><i>VCC</i><b class="G"></b><b class="V">&gt;</b></div>
<div class="r"><i>B</i><i>2G</i><b class="L">FROMCARNEXTSRC1</b><b class="GR"></b></div>
<div class="r"><i>1C3</i><i>A</i><b class="L">FROMOPCODEADDR7</b><b class="R">FROMCARNEXTSRC0</b></div>
<div class="r"><i>1C2</i><i>2C3</i><b class="L">FROMMODEADDR7</b><b class="Z">0</b></div>
<div class="r"><i>1C1</i><i>2C2</i><b class="L">FROMuP0ADDR7</b><b class="Z">0</b></div>
<div class="r"><i>1C0</i><i>2C1</i><b class="L">FROMPLUSONE7</b><b class="Z">0</b></div>
<div class="r"><i>1Y</i><i>2C0</i><b class="R">FROMUPARAM7</b></div>
<div class="r"><i>GND</i><i>2Y</i><b class="G"></b></div></div>
<div class="c" style="left:741px;top:995.5px;width:42px"><div class="n" style="top:25px">74153</div>
<div class="r"><i>1G</i><i>VCC</i><b class="G"></b><b class="V">&gt;</b></div>
<div class="r"><i>B</i><i>2G</i><b class="L">FROMCARNEXTSRC1</b><b class="GR"></b></div>
<div class="r"><i>1C3</i><i>A</i><b class="L">FROMOPCODEADDR6</b><b class="R">FROMCARNEXTSRC0</b></div>
<div class="r"><i>1C2</i><i>2C3</i><b class="L">FROMMODEADDR6</b><b class="Z">0</b></div>
<div class="r"><i>1C1</i><i>2C2</i><b class="L">FROMuP0ADDR6</b><b class="Z">0</b></div>
<div class="r"><i>1C0</i><i>2C1</i><b class="L">FROMPLUSONE6</b><b class="Z">0</b></div>
<div class="r"><i>1Y</i><i>2C0</i><b class="R">FROMUPARAM6</b></div>
<div class="r"><i>GND</i><i>2Y</i><b class="G"></b></div></div>
<div class="c" style="left:943px;top:995.5px;width:42px"><div class="n" style="top:25px">74153</div>
<div class="r"><i>1G</i><i>VCC</i><b class="G"></b><b class="V">&gt;</b></div>
<div class="r"><i>B</i><i>2G</i><b class="L">FROMCARNEXTSRC1</b><b class="GR"></b></div>
<div class="r"><i>1C3</i><i>A</i><b class="L">FROMOPCODEADDR5</b><b class="R">FROMCARNEXTSRC0</b></div>
<div class="r"><i>1C2</i><i>2C3</i><b class="L">FROMMODEADDR5</b><b class="Z">0</b></div>
<div class="r"><i>1C1</i><i>2C2</i><b class="L">FROMuP0ADDR5</b><b class="Z">0</b></div>
<div class="r"><i>1C0</i><i>2C1</i><b class="L">FROMPLUSONE5</b><b class="Z">0</b></div>
<div class="r"><i>1Y</i><i>2C0</i><b class="R">FROMUPARAM5</b></div>
<div class="r"><i>GND</i><i>2Y</i><b class="G"></b></div></div>
<div class="c" style="left:1146px;top:995.5px;width:42px"><div class="n" style="top:25px">74153</div>
<div class="r"><i>1G</i><i>VCC</i><b class="G"></b><b class="V">&gt;</b></div>
<div class="r"><i>B</i><i>2G</i><b class="L">FROMCARNEXTSRC1</b><b class="GR"></b></div>
<div class="r"><i>1C3</i><i>A</i><b class="L">FROMOPCODEADDR4</b><b class="R">FROMCARNEXTSRC0</b></div>
<div class="r"><i>1C2</i><i>2C3</i><b class="L">FROMMODEADDR4</b><b class="Z">0</b></div>
<div class="r"><i>1C1</i><i>2C2</i><b class="L">FROMuP0ADDR4</b><b class="Z">0</b></div>
<div class="r"><i>1C0</i><i>2C1</i><b class="L">FROMPLUSONE4</b><b class="Z">0</b></div>
<div class="r"><i>1Y</i><i>2C0</i><b class="R">FROMUPARAM4</b></div>
<div class="r"><i>GND</i><i>2Y</i><b class="G"></b></div></div>
<div class="t h ct" style="left:560px;top:1130px">BIT7</div>
<div class="t h ct" style="left:762px;top:1130px">BIT6</div>
<div class="t h ct" style="left:964px;top:1130px">BIT5</div>
<div class="t h ct" style="left:1167px;top:1130px">BIT4</div>

<div class="c" style="left:837px;top:1181.5px;width:43px"><div class="n" style="top:25px">74157</div>
<div class="r"><i>S</i><i>VCC</i><b class="L">FROMCARNEXTSRC2</b><b class="V">&gt;</b></div>
<div class="r"><i>A1</i><i>G</i><b class="GR"></b></div>
<div class="r"><i>B1</i><i>A4</i></div>
<div class="r"><i>Y1</i><i>B4</i><b class="L">TOCARNEXT7</b></div>
<div class="r"><i>A2</i><i>Y4</i><b class="R">TOCARNEXT4</b></div>
<div class="r"><i>B2</i><i>A3</i></div>
<div class="r"><i>Y2</i><i>B3</i><b class="L">TOCARNEXT6</b></div>
<div class="r"><i>GND</i><i>Y3</i><b class="G"></b><b class="R">TOCARNEXT5</b></div></div>
<div class="t h ct" style="left:859px;top:1316px">High  Nibble</div>
</div></body></html>
